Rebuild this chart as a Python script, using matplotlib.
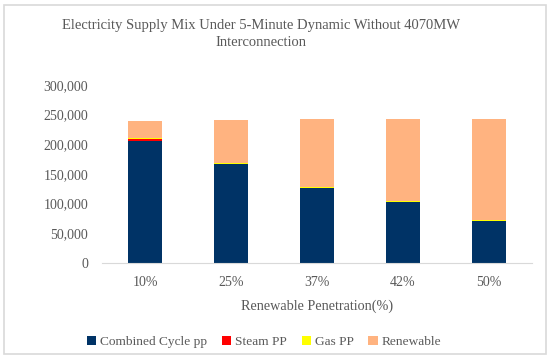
import matplotlib.pyplot as plt
import numpy as np
from matplotlib.patches import Rectangle
from matplotlib.ticker import FuncFormatter

# ---------- Data ----------
categories = ["10%", "25%", "37%", "42%", "50%"]
combined_cycle = [206000, 167000, 127000, 102500, 71000]
steam_pp = [2500, 0, 0, 0, 0]
gas_pp = [1500, 1500, 1500, 1500, 1500]
renewable = [29000, 72500, 114700, 139200, 170700]

series = [
    ("Combined Cycle pp", combined_cycle, "#003366"),
    ("Steam PP", steam_pp, "#FF0000"),
    ("Gas PP", gas_pp, "#FFFF00"),
    ("Renewable", renewable, "#FFB380"),
]

SERIF = ["Liberation Serif", "DejaVu Serif"]
plt.rcParams["font.family"] = SERIF
TXT = "#595959"

fig = plt.figure(figsize=(5.5, 3.59), dpi=100)
fig.patches.append(Rectangle((0.008, 0.014), 0.984, 0.972, transform=fig.transFigure,
                             fill=False, edgecolor="#D9D9D9", linewidth=1.2))

ax = fig.add_axes([0.1855, 0.2674, 0.7818, 0.4958])
x = np.arange(len(categories))
bottom = np.zeros(len(categories))
handles = []
for name, vals, color in series:
    b = ax.bar(x, vals, width=0.4, bottom=bottom, color=color, label=name)
    handles.append(b)
    bottom += np.array(vals)

ax.set_xlim(-0.5, len(categories) - 0.5)
ax.set_ylim(0, 300000)
ax.set_yticks(np.arange(0, 300001, 50000))
ax.yaxis.set_major_formatter(FuncFormatter(lambda v, p: f"{int(v):,}"))
ax.set_xticks(x)
ax.set_xticklabels(categories)
ax.tick_params(axis="both", length=0, labelsize=10, labelcolor=TXT)
ax.tick_params(axis="x", pad=9)
ax.tick_params(axis="y", pad=10)
for s in ["top", "right", "left"]:
    ax.spines[s].set_visible(False)
ax.spines["bottom"].set_color("#D9D9D9")

ax.set_xlabel("Renewable Penetration(%)", fontsize=10.2, color=TXT, labelpad=8)

fig.text(0.475, 0.905, "Electricity Supply Mix Under 5-Minute Dynamic Without 4070MW\nInterconnection",
         ha="center", va="center", fontsize=10.5, color=TXT, linespacing=1.4)

leg = fig.legend(handles=handles, loc="center", bbox_to_anchor=(0.48, 0.047), ncol=4,
                 frameon=False, fontsize=9.6, handlelength=0.7, handleheight=0.7,
                 handletextpad=0.3, columnspacing=1.1)
for t in leg.get_texts():
    t.set_color(TXT)

fig.savefig("out.png", dpi=100)
